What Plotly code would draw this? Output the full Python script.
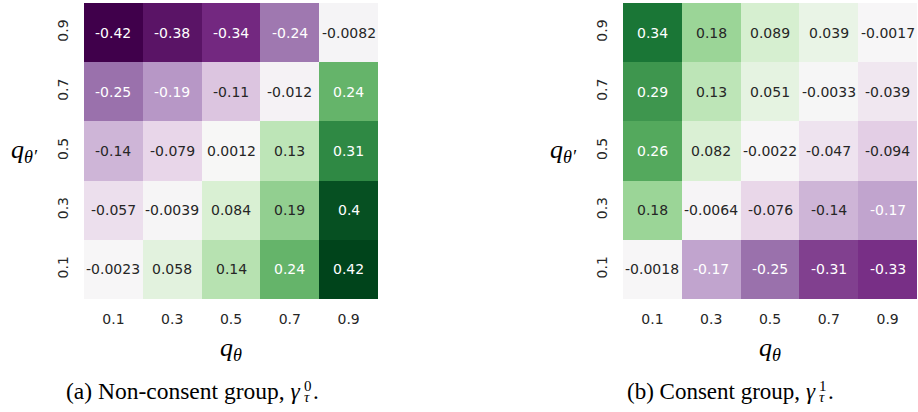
import plotly.graph_objects as go

# ---------------- data ----------------
q_labels = ["0.1", "0.3", "0.5", "0.7", "0.9"]

# rows ordered from q_theta' = 0.1 (bottom) to 0.9 (top); columns q_theta = 0.1 .. 0.9
gamma0 = [
    [-0.0023, 0.058, 0.14, 0.24, 0.42],
    [-0.057, -0.0039, 0.084, 0.19, 0.4],
    [-0.14, -0.079, 0.0012, 0.13, 0.31],
    [-0.25, -0.19, -0.11, -0.012, 0.24],
    [-0.42, -0.38, -0.34, -0.24, -0.0082],
]
gamma1 = [
    [-0.0018, -0.17, -0.25, -0.31, -0.33],
    [0.18, -0.0064, -0.076, -0.14, -0.17],
    [0.26, 0.082, -0.0022, -0.047, -0.094],
    [0.29, 0.13, 0.051, -0.0033, -0.039],
    [0.34, 0.18, 0.089, 0.039, -0.0017],
]
caption_text = ["(a) Non-consent group, ", "(b) Consent group, "]
caption_sup = ["0", "1"]

# ---------------- style ----------------
W, H = 918, 412
ZMAX = 0.42
PRGN = ["#40004b", "#762a83", "#9970ab", "#c2a5cf", "#e7d4e8", "#f7f7f7",
        "#d9f0d3", "#a6dba0", "#5aae61", "#1b7837", "#00441b"]
colorscale = [[i / (len(PRGN) - 1), c] for i, c in enumerate(PRGN)]
DARK = "#262626"
serif = "Liberation Serif"


def px(x):
    return x / W


def py(y):
    return 1 - y / H


def hex_rgb(h):
    h = h.lstrip("#")
    return [int(h[i:i + 2], 16) / 255 for i in (0, 2, 4)]


def color_at(v):
    t = (v + ZMAX) / (2 * ZMAX)
    t = min(max(t, 0), 1)
    n = len(PRGN) - 1
    i = min(int(t * n), n - 1)
    f = t * n - i
    a, b = hex_rgb(PRGN[i]), hex_rgb(PRGN[i + 1])
    return [a[k] + (b[k] - a[k]) * f for k in range(3)]


def luminance(rgb):
    lin = [c / 12.92 if c <= 0.03928 else ((c + 0.055) / 1.055) ** 2.4 for c in rgb]
    return 0.2126 * lin[0] + 0.7152 * lin[1] + 0.0722 * lin[2]


panels = [
    dict(z=gamma0, x0=84, x1=378, gamma_end=303, cap_size=23.5),
    dict(z=gamma1, x0=623, x1=917, gamma_end=818, cap_size=23),
]
Y0, Y1 = 3, 299

fig = go.Figure()
annotations = []

for k, p in enumerate(panels):
    xa = "x" if k == 0 else "x2"
    ya = "y" if k == 0 else "y2"
    fig.add_trace(go.Heatmap(
        z=p["z"], x=q_labels, y=q_labels, xaxis=xa, yaxis=ya,
        colorscale=colorscale, zmin=-ZMAX, zmax=ZMAX, showscale=False,
        hoverinfo="x+y+z",
    ))
    for r in range(len(q_labels)):
        for c in range(len(q_labels)):
            v = p["z"][r][c]
            col = DARK if luminance(color_at(v)) > 0.45 else "white"
            annotations.append(dict(
                x=c, y=r, xref=xa, yref=ya, text=format(v, ".2g"),
                showarrow=False, font=dict(family="DejaVu Sans", size=14, color=col),
            ))
    cx = (p["x0"] + p["x1"]) / 2
    # x-axis title q_theta
    annotations.append(dict(
        x=px(cx), y=py(349), xref="paper", yref="paper", showarrow=False,
        text="<i>q</i><sub><i>θ</i></sub>", xanchor="center", yanchor="middle",
        font=dict(family=serif, size=26, color="black"),
    ))
    # y-axis title q_theta'
    annotations.append(dict(
        x=px(p["x0"] - 60), y=py(151), xref="paper", yref="paper", showarrow=False,
        text="<i>q</i><sub><i>θ′</i></sub>", xanchor="center", yanchor="middle",
        font=dict(family=serif, size=26, color="black"),
    ))
    # caption, ending at gamma; stacked super/subscript and period follow
    g = p["gamma_end"]
    annotations.append(dict(
        x=px(g), y=py(391), xref="paper", yref="paper", showarrow=False,
        text=caption_text[k] + "<i>γ</i>", xanchor="right", yanchor="middle",
        font=dict(family=serif, size=p["cap_size"], color="black"),
    ))
    annotations.append(dict(x=px(g - 1), y=py(386), xref="paper", yref="paper", showarrow=False,
                            text=caption_sup[k], xanchor="left", yanchor="middle",
                            font=dict(family=serif, size=15, color="black")))
    annotations.append(dict(x=px(g - 1), y=py(397), xref="paper", yref="paper", showarrow=False,
                            text="<i>τ</i>", xanchor="left", yanchor="middle",
                            font=dict(family=serif, size=15, color="black")))
    annotations.append(dict(x=px(g + 8), y=py(391), xref="paper", yref="paper", showarrow=False,
                            text=".", xanchor="left", yanchor="middle",
                            font=dict(family=serif, size=23, color="black")))

axis_common = dict(type="category", showgrid=False, zeroline=False, showline=False,
                   ticks="outside", tickcolor="rgba(0,0,0,0)",
                   tickfont=dict(family="DejaVu Sans", size=14, color=DARK))
fig.update_layout(
    width=W, height=H, margin=dict(l=0, r=0, t=0, b=0),
    paper_bgcolor="white", plot_bgcolor="white",
    annotations=annotations,
    xaxis=dict(domain=[px(84), px(378)], anchor="y", ticklen=7, **axis_common),
    yaxis=dict(domain=[py(Y1), py(Y0)], anchor="x", ticklen=9, tickangle=-90, **axis_common),
    xaxis2=dict(domain=[px(623), px(917)], anchor="y2", ticklen=7, **axis_common),
    yaxis2=dict(domain=[py(Y1), py(Y0)], anchor="x2", ticklen=9, tickangle=-90, **axis_common),
)

fig.write_html("out.html", config={"displayModeBar": False},
               post_script="document.body.style.margin='0';")
